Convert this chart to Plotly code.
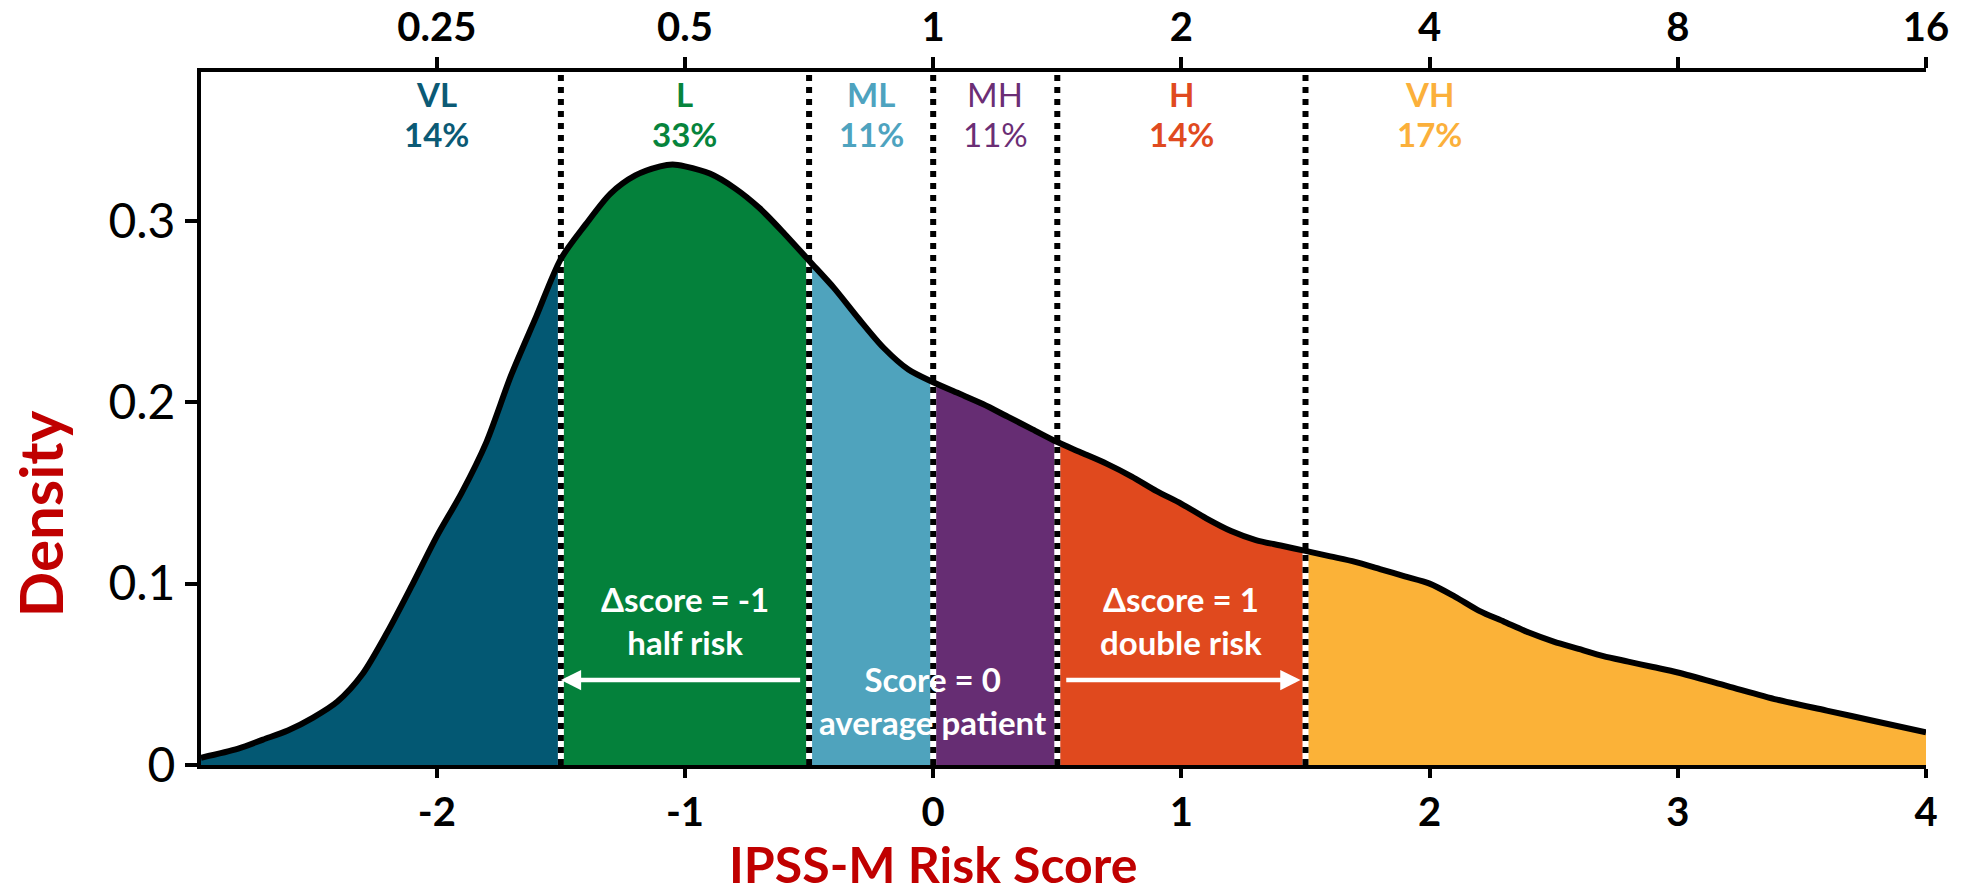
import plotly.graph_objects as go

# IPSS-M risk score density curve
score = [-2.95, -2.80, -2.70, -2.60, -2.50, -2.40, -2.30, -2.20, -2.10, -2.00,
         -1.90, -1.80, -1.70, -1.60, -1.50, -1.40, -1.30, -1.20, -1.10, -1.05,
         -1.00, -0.90, -0.80, -0.70, -0.60, -0.50, -0.40, -0.30, -0.20, -0.10,
         0.00, 0.10, 0.20, 0.30, 0.40, 0.50, 0.60, 0.70, 0.80, 0.90,
         1.00, 1.10, 1.20, 1.30, 1.40, 1.50, 1.60, 1.70, 1.80, 1.90,
         2.00, 2.10, 2.20, 2.30, 2.40, 2.50, 2.60, 2.70, 2.80, 2.90,
         3.00, 3.20, 3.40, 3.60, 3.80, 4.00]
density = [0.004, 0.009, 0.014, 0.019, 0.026, 0.035, 0.050, 0.073, 0.099, 0.126,
           0.150, 0.178, 0.215, 0.247, 0.279, 0.298, 0.315, 0.325, 0.330, 0.331,
           0.330, 0.326, 0.318, 0.307, 0.293, 0.278, 0.263, 0.246, 0.230, 0.218,
           0.211, 0.205, 0.199, 0.192, 0.185, 0.178, 0.172, 0.166, 0.159, 0.151,
           0.144, 0.136, 0.129, 0.124, 0.121, 0.118, 0.115, 0.112, 0.108, 0.104,
           0.100, 0.093, 0.085, 0.079, 0.073, 0.068, 0.064, 0.060, 0.057, 0.054,
           0.051, 0.0435, 0.036, 0.030, 0.024, 0.018]

# risk categories
categories = ["VL", "L", "ML", "MH", "H", "VH"]
shares = ["14%", "33%", "11%", "11%", "14%", "17%"]
boundaries = [-1.5, -0.5, 0.0, 0.5, 1.5]
label_pos = [-2.0, -1.0, -0.25, 0.25, 1.0, 2.0]
fill_colors = ["#035873", "#04813b", "#4fa3bd", "#662d73", "#e0491e", "#fbb238"]
text_colors = ["#0b5a75", "#06843c", "#4ea3bf", "#6b2e75", "#e04a1f", "#fbb03b"]
label_bold = [True, True, True, False, True, True]

# axes
x_ticks = [-2, -1, 0, 1, 2, 3, 4]
x_ticktext = ["-2", "-1", "0", "1", "2", "3", "4"]
hr_ticktext = ["0.25", "0.5", "1", "2", "4", "8", "16"]
y_ticks = [0, 0.1, 0.2, 0.3]
y_ticktext = ["0", "0.1", "0.2", "0.3"]
x_range = [-2.95, 4.0]
y_range = [0.0, 0.382]

FONT = "Lato"
DARK_RED = "#c00000"

fig = go.Figure()

# coloured segments under the curve
edges = [score[0]] + boundaries + [score[-1]]
for i, col in enumerate(fill_colors):
    lo, hi = edges[i], edges[i + 1]
    xs = [s for s in score if lo <= s <= hi]
    ys = [d for s, d in zip(score, density) if lo <= s <= hi]
    fig.add_trace(go.Scatter(
        x=xs, y=ys, mode="lines", fill="tozeroy", fillcolor=col,
        line=dict(width=0, color=col, shape="spline", smoothing=0.8),
        hoverinfo="skip", showlegend=False))

# category cut-points: white under-stroke inside the fill, black dotted on top
for b in boundaries:
    top = density[score.index(b)]
    fig.add_trace(go.Scatter(
        x=[b, b], y=[0, top], mode="lines",
        line=dict(color="white", width=6),
        hoverinfo="skip", showlegend=False))
for b in boundaries:
    fig.add_trace(go.Scatter(
        x=[b, b], y=[0, y_range[1]], mode="lines",
        line=dict(color="black", width=6, dash="6px,6px"),
        hoverinfo="skip", showlegend=False))

# density outline
fig.add_trace(go.Scatter(
    x=score, y=density, mode="lines",
    line=dict(color="black", width=6, shape="spline", smoothing=0.8),
    hoverinfo="skip", showlegend=False))

# invisible trace that anchors the hazard-ratio axis
fig.add_trace(go.Scatter(x=x_range, y=[0, 0], xaxis="x2", mode="lines",
                         line=dict(width=0), hoverinfo="skip", showlegend=False))

annotations = []
for name, share, xpos, tc, bold in zip(categories, shares, label_pos, text_colors, label_bold):
    w = "bold" if bold else "normal"
    annotations.append(dict(x=xpos, y=0.3697, xref="x", yref="y", text=name, showarrow=False,
                            font=dict(family=FONT, size=33, color=tc, weight=w),
                            xanchor="center", yanchor="middle"))
    annotations.append(dict(x=xpos, y=0.348, xref="x", yref="y", text=share, showarrow=False,
                            font=dict(family=FONT, size=33, color=tc, weight=w),
                            xanchor="center", yanchor="middle"))

white_font = dict(family=FONT, size=33, color="white", weight="bold")
for txt, xpos, ypos in [("Δscore = -1<br>half risk", -1.0, 0.0799),
                        ("Δscore = 1<br>double risk", 1.0, 0.0799),
                        ("Score = 0<br>average patient", 0.0, 0.0355)]:
    annotations.append(dict(x=xpos, y=ypos, xref="x", yref="y", text=txt, showarrow=False,
                            font=white_font, xanchor="center", yanchor="middle"))

# arrows: halving and doubling of risk
for tail, tip in [(-0.53, -1.5), (0.53, 1.48)]:
    annotations.append(dict(x=tip, y=0.0468, ax=tail, ay=0.0468, xref="x", yref="y",
                            axref="x", ayref="y", text="", showarrow=True,
                            arrowhead=2, arrowsize=0.9, arrowwidth=4.5, arrowcolor="white",
                            standoff=0, startstandoff=0))

# axis titles
annotations.append(dict(x=0.0, y=-0.1425, xref="x", yref="paper", text="IPSS-M Risk Score",
                        showarrow=False, font=dict(family=FONT, size=50, color=DARK_RED, weight="bold"),
                        xanchor="center", yanchor="middle"))
annotations.append(dict(x=-0.0928, y=0.363, xref="paper", yref="paper", text="Density",
                        textangle=-90, showarrow=False,
                        font=dict(family=FONT, size=60, color=DARK_RED, weight="bold"),
                        xanchor="center", yanchor="middle"))

fig.update_layout(
    width=1967, height=896,
    margin=dict(l=201, r=41, t=72, b=131),
    paper_bgcolor="white", plot_bgcolor="white",
    showlegend=False,
    xaxis=dict(range=x_range, tickmode="array", tickvals=x_ticks, ticktext=x_ticktext,
               showline=True, linecolor="black", linewidth=4, automargin=False,
               ticks="outside", ticklen=9, tickwidth=4, tickcolor="black",
               tickfont=dict(family=FONT, size=40, color="black", weight="bold"),
               showgrid=False, zeroline=False),
    xaxis2=dict(range=x_range, overlaying="x", side="top", anchor="y",
                tickmode="array", tickvals=x_ticks, ticktext=hr_ticktext,
                showline=True, linecolor="black", linewidth=4, automargin=False,
                ticks="outside", ticklen=11, tickwidth=4, tickcolor="black",
                tickfont=dict(family=FONT, size=40, color="black", weight="bold"),
                showgrid=False, zeroline=False),
    yaxis=dict(range=y_range, tickmode="array", tickvals=y_ticks, ticktext=y_ticktext,
               showline=True, linecolor="black", linewidth=4, automargin=False,
               ticks="outside", ticklen=12, tickwidth=4, tickcolor="black",
               tickfont=dict(family=FONT, size=48, color="black"),
               showgrid=False, zeroline=False),
    annotations=annotations,
)

fig.write_html("out.html")
